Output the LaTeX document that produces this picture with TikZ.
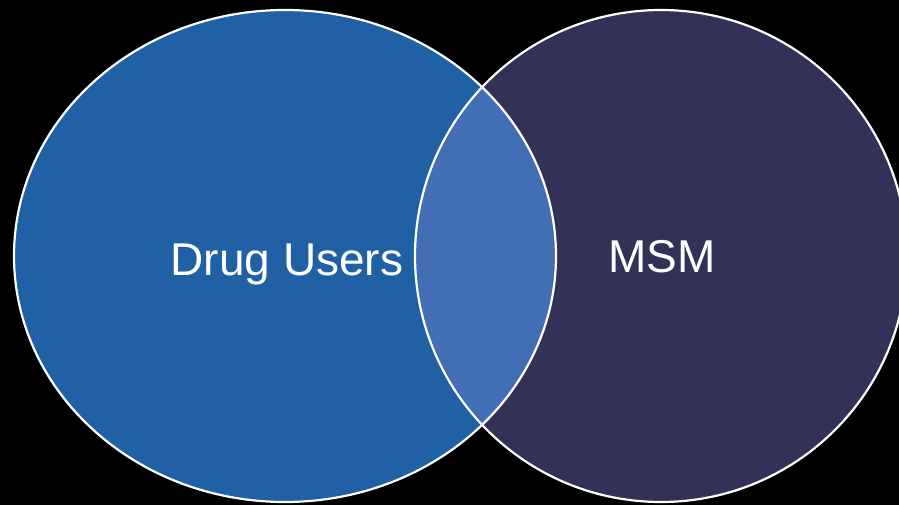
\documentclass[tikz,border=0pt]{standalone}
\usepackage{fontspec}
\setmainfont{Liberation Sans}
\usetikzlibrary{positioning}
\definecolor{druguse}{RGB}{32,96,164}
\definecolor{msmset}{RGB}{50,50,88}
\definecolor{bothsets}{RGB}{66,110,180}
\tikzset{
  setedge/.style={draw=white,line width=2.2pt},
  setlabel/.style={text=white,font=\fontsize{46}{50}\selectfont,inner sep=0pt,anchor=base}
}

\begin{document}
\begin{tikzpicture}[x=1pt,y=-1pt]

\fill[black] (0,0) rectangle (899,505);
\useasboundingbox (0,0) rectangle (899,505);
\clip (0,0) rectangle (899,505);

\fill[druguse] (285,256) ellipse [x radius=271,y radius=246];
\fill[msmset] (661,256) circle [radius=246];

\begin{scope}
  \clip (285,256) ellipse [x radius=271,y radius=246];
  \fill[bothsets] (661,256) circle [radius=246];
\end{scope}

\draw[setedge] (285,256) ellipse [x radius=271,y radius=246];
\draw[setedge] (661,256) circle [radius=246];

\node[setlabel] (drug) at (287,275) {Drug Users};
\node[setlabel] (msm) at (662,272) {MSM};

\end{tikzpicture}
\end{document}
